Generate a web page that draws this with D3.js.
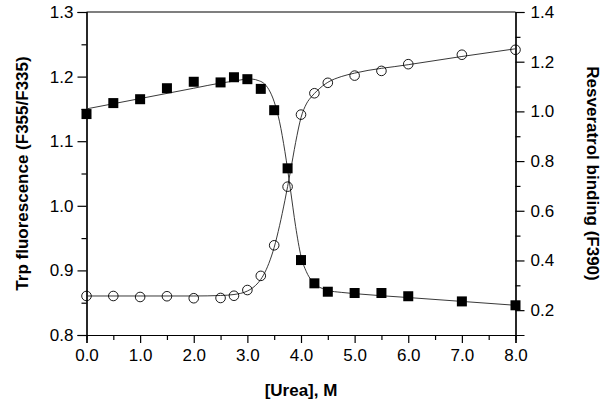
<!DOCTYPE html>
<html>
<head>
<meta charset="utf-8">
<script src="https://cdn.jsdelivr.net/npm/d3@7"></script>
<style>
  body { margin: 0; background: #fff; }
  svg text { font-family: "Liberation Sans", Arial, sans-serif; fill: #000; }
  .tick text { font-size: 17px; }
  .title { font-size: 17px; font-weight: bold; }
</style>
</head>
<body>
<div id="chart"></div>
<script>
// urea concentrations (M)
const urea = [0, 0.5, 1.0, 1.5, 2.0, 2.5, 2.75, 3.0, 3.25, 3.5, 3.75, 4.0, 4.25, 4.5, 5.0, 5.5, 6.0, 7.0, 8.0];
// Trp fluorescence F355/F335 (left axis, filled squares)
const trpRatio = [1.142, 1.159, 1.165, 1.182, 1.192, 1.191, 1.199, 1.196, 1.181, 1.148, 1.058, 0.916, 0.880, 0.867, 0.865, 0.865, 0.860, 0.852, 0.846];
// Resveratrol binding F390 (right axis, open circles)
const resBinding = [0.257, 0.257, 0.253, 0.256, 0.248, 0.249, 0.258, 0.281, 0.338, 0.461, 0.697, 0.987, 1.073, 1.115, 1.144, 1.163, 1.190, 1.228, 1.248];

// fitted curves
const fitX = [0, 1, 2, 2.5, 2.75, 3.0, 3.1, 3.2, 3.3, 3.4, 3.5, 3.6, 3.7, 3.8, 3.9, 4.0, 4.1, 4.2, 4.3, 4.4, 4.5, 4.75, 5, 6, 7, 8];
const trpFit = [1.150, 1.166, 1.182, 1.190, 1.193, 1.196, 1.196, 1.194, 1.190, 1.180, 1.161, 1.130, 1.084, 1.027, 0.968, 0.922, 0.898, 0.884, 0.876, 0.872, 0.869, 0.866, 0.864, 0.858, 0.852, 0.846];
const resFit = [0.257, 0.257, 0.257, 0.259, 0.263, 0.277, 0.290, 0.310, 0.341, 0.388, 0.453, 0.540, 0.642, 0.755, 0.875, 0.975, 1.030, 1.060, 1.083, 1.102, 1.117, 1.140, 1.154, 1.188, 1.221, 1.252];

const xTicks = [0, 1, 2, 3, 4, 5, 6, 7, 8];
const xMinor = [0.5, 1.5, 2.5, 3.5, 4.5, 5.5, 6.5, 7.5];
const yLeftTicks = [0.8, 0.9, 1.0, 1.1, 1.2, 1.3];
const yLeftMinor = [0.85, 0.95, 1.05, 1.15, 1.25];
const yRightTicks = [0.2, 0.4, 0.6, 0.8, 1.0, 1.2, 1.4];
const yRightMinor = [0.3, 0.5, 0.7, 0.9, 1.1, 1.3];

const width = 602, height = 405;
const plot = { left: 86.5, right: 515.5, top: 12, bottom: 335 };

const svg = d3.select('#chart').append('svg')
  .attr('width', width)
  .attr('height', height);

const x = d3.scaleLinear().domain([0, 8]).range([plot.left, plot.right]);
const yL = d3.scaleLinear().domain([0.8, 1.3]).range([plot.bottom, plot.top]);
const yR = d3.scaleLinear().domain([0.1, 1.4]).range([plot.bottom, plot.top]);
const fmt = d3.format('.1f');

// minor ticks first, then major axes on top
svg.append('g').attr('transform', 'translate(0,' + plot.bottom + ')')
  .call(d3.axisBottom(x).tickValues(xMinor).tickSize(5).tickFormat(''));
svg.append('g').attr('transform', 'translate(0,' + plot.bottom + ')')
  .call(d3.axisBottom(x).tickValues(xTicks).tickSize(8).tickPadding(6).tickFormat(fmt));

svg.append('g').attr('transform', 'translate(' + plot.left + ',0)')
  .call(d3.axisLeft(yL).tickValues(yLeftMinor).tickSize(5).tickFormat(''));
svg.append('g').attr('transform', 'translate(' + plot.left + ',0)')
  .call(d3.axisLeft(yL).tickValues(yLeftTicks).tickSize(9).tickPadding(4).tickFormat(fmt));

svg.append('g').attr('transform', 'translate(' + plot.right + ',0)')
  .call(d3.axisRight(yR).tickValues(yRightMinor).tickSize(5).tickFormat(''));
svg.append('g').attr('transform', 'translate(' + plot.right + ',0)')
  .call(d3.axisRight(yR).tickValues(yRightTicks).tickSize(9).tickPadding(6).tickFormat(fmt));

svg.selectAll('.domain').attr('stroke', '#000').attr('stroke-width', 1.2);
svg.selectAll('.tick line').attr('stroke', '#000').attr('stroke-width', 1.2);
svg.selectAll('g').attr('font-size', null).attr('font-family', null);

// top border
svg.append('line')
  .attr('x1', plot.left).attr('x2', plot.right)
  .attr('y1', plot.top).attr('y2', plot.top)
  .attr('stroke', '#000').attr('stroke-width', 1.2);

// fit lines
const lineL = d3.line().x((d, i) => x(fitX[i])).y(d => yL(d)).curve(d3.curveMonotoneX);
const lineR = d3.line().x((d, i) => x(fitX[i])).y(d => yR(d)).curve(d3.curveMonotoneX);

svg.append('path').datum(trpFit)
  .attr('d', lineL)
  .attr('fill', 'none').attr('stroke', '#222').attr('stroke-width', 0.9);
svg.append('path').datum(resFit)
  .attr('d', lineR)
  .attr('fill', 'none').attr('stroke', '#222').attr('stroke-width', 0.9);

// open circles
svg.append('g').selectAll('circle')
  .data(resBinding)
  .enter()
  .append('circle')
  .attr('cx', (d, i) => x(urea[i]))
  .attr('cy', d => yR(d))
  .attr('r', 4.8)
  .attr('fill', 'none')
  .attr('stroke', '#000')
  .attr('stroke-width', 0.9);

// filled squares
const sq = 10;
svg.append('g').selectAll('rect')
  .data(trpRatio)
  .enter()
  .append('rect')
  .attr('x', (d, i) => x(urea[i]) - sq / 2)
  .attr('y', d => yL(d) - sq / 2)
  .attr('width', sq)
  .attr('height', sq)
  .attr('fill', '#000');

// axis titles
svg.append('text')
  .attr('class', 'title')
  .attr('x', (plot.left + plot.right) / 2)
  .attr('y', 396)
  .attr('text-anchor', 'middle')
  .text('[Urea], M');

svg.append('text')
  .attr('class', 'title')
  .attr('transform', 'translate(28,' + (plot.top + plot.bottom) / 2 + ') rotate(-90)')
  .attr('text-anchor', 'middle')
  .text('Trp fluorescence (F355/F335)');

svg.append('text')
  .attr('class', 'title')
  .attr('transform', 'translate(587,' + (plot.top + plot.bottom) / 2 + ') rotate(90)')
  .attr('text-anchor', 'middle')
  .text('Resveratrol binding (F390)');
</script>
</body>
</html>
